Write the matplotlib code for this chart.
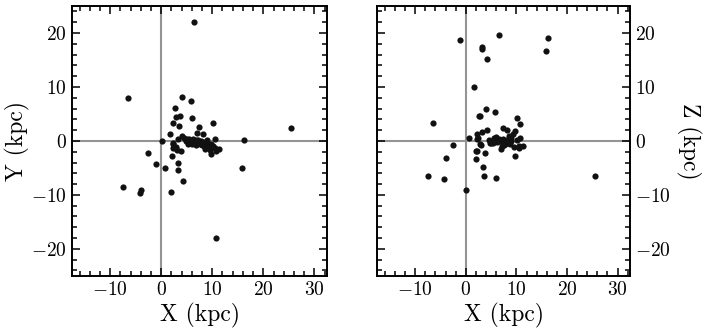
import matplotlib
matplotlib.use("Agg")
import matplotlib.pyplot as plt
from matplotlib.ticker import MultipleLocator

plt.rcParams["font.family"] = "serif"
plt.rcParams["font.serif"] = ["cmr10", "DejaVu Serif"]
plt.rcParams["mathtext.fontset"] = "cm"
plt.rcParams["axes.formatter.use_mathtext"] = True

# galactocentric positions (kpc)
x_kpc = [-6.5, -7.5, 25.5, 6.5, 16.2, 15.8, 10.7, -4.0, -4.2, -2.6,
         -1.1, 0.1, 0.7, 2.0, 2.1, 3.3, 3.3, 4.2, 1.7, 4.0,
         5.8, 2.7, 2.9, 3.6, 6.0, 2.3, 3.5, 10.1, 7.4, 7.0,
         8.2, 4.1, 3.3, 2.3, 2.3, 3.0, 3.8, 9.7, 10.8, 11.4,
         10.6, 6.0, 4.5, 5.0, 5.5, 6.2, 6.8, 7.3, 7.8, 8.2,
         8.6, 9.0, 7.6, 8.0, 8.4, 8.8, 9.3, 9.8, 10.2, 7.1,
         6.5, 5.8, 8.9, 7.9, 9.5, 10.5, 8.5, 6.9, 4.8, 5.3,
         2.8, 2.4]
y_kpc = [8.0, -8.5, 2.4, 22.1, 0.1, -5.1, -18.0, -9.0, -9.6, -2.2,
         -4.2, -0.1, -5.0, -9.4, -2.8, -4.1, -5.3, -7.4, 1.2, 8.1,
         7.4, 6.1, 4.4, 4.7, 4.2, 3.3, 2.8, 3.4, 2.6, 1.5,
         1.3, 1.0, 0.3, -0.5, -1.3, -1.6, -1.8, -2.5, -1.9, -1.4,
         0.4, -0.5, 0.6, 0.4, 0.3, 0.3, 0.2, 0.1, 0.0, -0.2,
         -0.3, -0.4, -0.5, -0.8, -1.0, -1.2, -0.9, -0.6, -1.0, -0.3,
         -0.2, 0.0, 0.1, -0.6, -1.6, -1.3, -1.5, -0.8, -0.1, -0.6,
         -1.2, -0.3]
z_kpc = [3.4, -6.5, -6.5, 19.6, 19.0, 16.6, 0.5, -3.1, -7.0, -0.7,
         18.7, -9.0, 0.5, -3.3, -1.9, 17.5, 17.0, 15.1, 10.0, 5.9,
         5.3, 4.7, 4.7, -6.5, -6.8, -1.8, -4.9, 4.3, 2.4, -1.5,
         2.1, 2.0, 1.7, 1.2, 0.4, -0.7, -2.2, -2.7, 3.2, -1.0,
         -1.3, 0.8, 0.2, -0.3, 0.5, -0.2, 0.0, 0.3, -0.5, 0.1,
         -0.3, 0.6, -0.8, -0.2, 0.0, -0.6, 1.3, 1.8, 0.2, -1.0,
         0.4, 0.0, -0.1, -0.4, -1.2, -0.9, 0.9, -0.1, -0.4, -0.3,
         -0.5, 0.6]

fig = plt.figure(figsize=(7.05, 3.36), dpi=100)
ax1 = fig.add_axes([0.102, 0.179, 0.362, 0.803])
ax2 = fig.add_axes([0.535, 0.179, 0.359, 0.803])

for ax, yy in [(ax1, y_kpc), (ax2, z_kpc)]:
    ax.axhline(0, color="0.58", lw=1.5, zorder=1)
    ax.axvline(0, color="0.58", lw=1.5, zorder=1)
    ax.scatter(x_kpc, yy, s=20, color="#111111", zorder=3, linewidths=0)
    ax.set_xlim(-17.5, 32.5)
    ax.set_ylim(-25, 25)
    ax.xaxis.set_major_locator(MultipleLocator(10))
    ax.xaxis.set_minor_locator(MultipleLocator(2))
    ax.yaxis.set_major_locator(MultipleLocator(10))
    ax.yaxis.set_minor_locator(MultipleLocator(2))
    ax.tick_params(which="both", direction="in", top=True, right=True,
                   width=1.1, labelsize=14)
    ax.tick_params(which="major", length=6)
    ax.tick_params(which="minor", length=3.5)
    for sp in ax.spines.values():
        sp.set_linewidth(1.4)
    ax.set_xlabel("X (kpc)", fontsize=17, labelpad=3)

ax1.set_ylabel("Y (kpc)", fontsize=17, labelpad=1)
ax2.tick_params(which="both", labelleft=False, labelright=True)
ax2.yaxis.set_label_position("right")
ax2.set_ylabel("Z (kpc)", fontsize=17, rotation=270, labelpad=22)

fig.savefig("out.png", dpi=100)
